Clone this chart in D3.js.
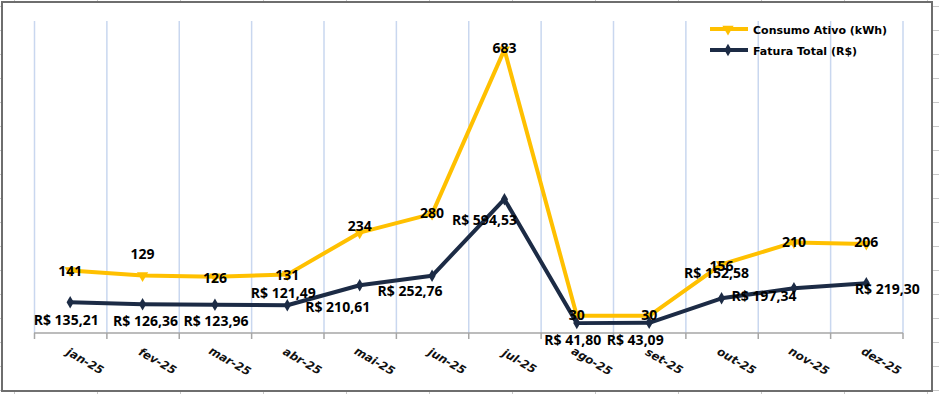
<!DOCTYPE html>
<html>
<head>
<meta charset="utf-8">
<script src="https://cdn.jsdelivr.net/npm/d3@7"></script>
<style>
    body { margin: 0; background: #fff; }
    svg { display: block; }
</style>
</head>
<body>
<div class="svg"></div>
<script>
var months = ['jan-25', 'fev-25', 'mar-25', 'abr-25', 'mai-25', 'jun-25', 'jul-25', 'ago-25', 'set-25', 'out-25', 'nov-25', 'dez-25'];
var consumo = [141, 129, 126, 131, 234, 280, 683, 30, 30, 156, 210, 206];
var fatura = [135.21, 126.36, 123.96, 121.49, 210.61, 252.76, 594.53, 41.80, 43.09, 152.58, 197.34, 219.30];
var seriesNames = ['Consumo Ativo (kWh)', 'Fatura Total (R$)'];

// label nudges (px) as placed by hand in the original sheet
var consumoLabelDy = [0, -21, 1, 0, -7, -1, -2, -1, -1, 2, 0, -2];
var faturaLabelDx = [-4, 3, 1, -4, -22, -22, -20, -4, -14, -5, -30, 21];
var faturaLabelDy = [18, 17, 16, -12, 22, 15, 21, 17, 17, -25, 8, 6];

var width = 939;
var height = 394;
var yellow = '#FFC000';
var navy = '#1C2B45';

var svg = d3.select('div.svg')
    .append('svg')
    .attr('width', width)
    .attr('height', height)

// spreadsheet cells peeking out around the chart frame
var cells = svg.append('g').attr('stroke', '#c8c8c8').attr('stroke-width', 1)
d3.range(14, 939, 83).forEach(function (x) {
    cells.append('line').attr('x1', x + 0.5).attr('x2', x + 0.5).attr('y1', 0).attr('y2', 2)
    cells.append('line').attr('x1', x + 0.5).attr('x2', x + 0.5).attr('y1', 392).attr('y2', 394)
})
d3.range(6, 394, 24).forEach(function (y) {
    cells.append('line').attr('x1', 0).attr('x2', 2).attr('y1', y + 0.5).attr('y2', y + 0.5)
    cells.append('line').attr('x1', 932).attr('x2', 939).attr('y1', y + 0.5).attr('y2', y + 0.5)
})

svg.append('rect')
    .attr('x', 2)
    .attr('y', 2)
    .attr('width', 930)
    .attr('height', 389)
    .attr('fill', '#fff')
    .attr('stroke', '#6e6e6e')
    .attr('stroke-width', 2)

var x = d3.scaleBand()
    .domain(months)
    .range([34, 902.5])

var yC = d3.scaleLinear()
    .domain([0, 800])
    .range([328, 2])

var yF = d3.scaleLinear()
    .domain([0, 1400])
    .range([332.5, 18.5])

var cx = function (i) { return x(months[i]) + x.bandwidth() / 2; };

// vertical gridlines
svg.append('g')
    .selectAll('line')
    .data(months.concat(['end']))
    .enter()
    .append('line')
    .attr('x1', function (d, i) { return 34 + i * x.bandwidth() + 0.5; })
    .attr('x2', function (d, i) { return 34 + i * x.bandwidth() + 0.5; })
    .attr('y1', 21)
    .attr('y2', 333)
    .attr('stroke', '#c9d7ef')
    .attr('stroke-width', 1.5)

// category axis
var axis = svg.append('g')
axis.append('line')
    .attr('x1', 34)
    .attr('x2', 903)
    .attr('y1', 333)
    .attr('y2', 333)
    .attr('stroke', '#a6a6a6')
    .attr('stroke-width', 1.5)
axis.selectAll('.tick')
    .data(months.concat(['end']))
    .enter()
    .append('line')
    .attr('class', 'tick')
    .attr('x1', function (d, i) { return 34 + i * x.bandwidth() + 0.5; })
    .attr('x2', function (d, i) { return 34 + i * x.bandwidth() + 0.5; })
    .attr('y1', 333)
    .attr('y2', 339)
    .attr('stroke', '#a6a6a6')
    .attr('stroke-width', 1.5)
axis.selectAll('text')
    .data(months)
    .enter()
    .append('text')
    .attr('transform', function (d, i) { return 'translate(' + (cx(i) + 15) + ',361) rotate(30)'; })
    .attr('text-anchor', 'middle')
    .attr('dominant-baseline', 'central')
    .attr('font-family', 'DejaVu Sans')
    .attr('font-weight', 'bold')
    .attr('font-style', 'italic')
    .attr('font-size', '11.5px')
    .attr('fill', '#111')
    .text(d => d)

var lineC = d3.line().x((d, i) => cx(i)).y(d => yC(d))
var lineF = d3.line().x((d, i) => cx(i)).y(d => yF(d))

var triangle = d3.symbol().type(d3.symbolTriangle).size(55)
var diamond = d3.symbol().type(d3.symbolDiamond).size(45)

svg.append('path')
    .datum(consumo)
    .attr('d', lineC)
    .attr('fill', 'none')
    .attr('stroke', yellow)
    .attr('stroke-width', 4)
    .attr('stroke-linejoin', 'round')

svg.append('g')
    .selectAll('path')
    .data(consumo)
    .enter()
    .append('path')
    .attr('d', triangle)
    .attr('fill', yellow)
    .attr('transform', (d, i) => 'translate(' + cx(i) + ',' + yC(d) + ') rotate(180)')

svg.append('path')
    .datum(fatura)
    .attr('d', lineF)
    .attr('fill', 'none')
    .attr('stroke', navy)
    .attr('stroke-width', 4)
    .attr('stroke-linejoin', 'round')

svg.append('g')
    .selectAll('path')
    .data(fatura)
    .enter()
    .append('path')
    .attr('d', diamond)
    .attr('fill', navy)
    .attr('transform', (d, i) => 'translate(' + cx(i) + ',' + yF(d) + ')')

// data labels
var labelFont = function (sel) {
    sel.attr('text-anchor', 'middle')
        .attr('font-family', 'Open Sans')
        .attr('font-weight', 'bold')
        .attr('font-size', '14px')
        .attr('fill', '#000')
}

svg.append('g')
    .selectAll('text')
    .data(fatura)
    .enter()
    .append('text')
    .call(labelFont)
    .attr('x', (d, i) => cx(i) + faturaLabelDx[i])
    .attr('y', (d, i) => yF(d) + faturaLabelDy[i] + 5)
    .text(d => 'R$ ' + d3.format(',.2f')(d).replace('.', ','))

svg.append('g')
    .selectAll('text')
    .data(consumo)
    .enter()
    .append('text')
    .call(labelFont)
    .attr('x', (d, i) => cx(i))
    .attr('y', (d, i) => yC(d) + consumoLabelDy[i] + 5)
    .text(d => d)

// legend
var legend = svg.append('g')
var legendRows = [
    { name: seriesNames[0], color: yellow, shape: triangle, rot: 180, y: 29 },
    { name: seriesNames[1], color: navy, shape: diamond, rot: 0, y: 50 }
]
legendRows.forEach(function (r) {
    legend.append('line')
        .attr('x1', 710)
        .attr('x2', 748)
        .attr('y1', r.y)
        .attr('y2', r.y)
        .attr('stroke', r.color)
        .attr('stroke-width', 4)
    legend.append('path')
        .attr('d', r.shape)
        .attr('fill', r.color)
        .attr('transform', 'translate(728,' + r.y + ') rotate(' + r.rot + ')')
    legend.append('text')
        .attr('x', 753)
        .attr('y', r.y + 4.5)
        .attr('font-family', 'DejaVu Sans')
        .attr('font-weight', 'bold')
        .attr('font-size', '11px')
        .attr('fill', '#000')
        .text(r.name)
})
</script>
</body>
</html>
